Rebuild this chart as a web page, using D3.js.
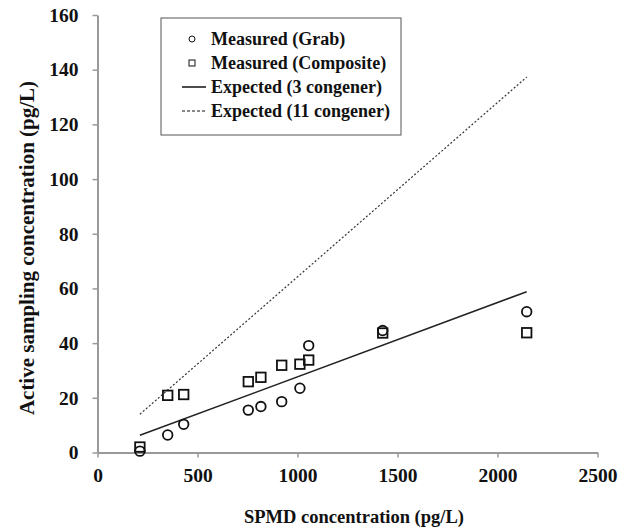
<!DOCTYPE html>
<html>
<head>
<meta charset="utf-8">
<script src="https://cdn.jsdelivr.net/npm/d3@7"></script>
<style>
  body { margin: 0; background: #fff; }
  text { font-family: "Liberation Serif", "Times New Roman", serif; font-weight: bold; fill: #111; }
</style>
</head>
<body>
<svg id="chart" width="632" height="529"></svg>
<script>
// SPMD concentration (pg/L) for each sampling event
const spmd = [212, 351, 431, 754, 817, 921, 1012, 1056, 1426, 2146];
// active sampling results (pg/L)
const grab = [0.5, 6.4, 10.3, 15.5, 16.8, 18.6, 23.5, 39.1, 44.6, 51.5];
const composite = [2.0, 20.9, 21.2, 25.9, 27.5, 31.9, 32.3, 33.8, 43.7, 43.8];
// expected lines (endpoints)
const expected3 = [[212, 6.3], [2146, 58.8]];
const expected11 = [[212, 14.0], [2146, 137.3]];

const xTicks = [0, 500, 1000, 1500, 2000, 2500];
const yTicks = [0, 20, 40, 60, 80, 100, 120, 140, 160];
const legendLabels = ["Measured (Grab)", "Measured (Composite)", "Expected (3 congener)", "Expected (11 congener)"];

const svg = d3.select("#chart");
const margin = { top: 15, right: 34.5, bottom: 76.5, left: 97.5 };
const width = 632 - margin.left - margin.right;
const height = 529 - margin.top - margin.bottom;

const g = svg.append("g")
  .attr("transform", "translate(" + margin.left + "," + margin.top + ")");

const x = d3.scaleLinear().domain([0, 2500]).range([0, width]);
const y = d3.scaleLinear().domain([0, 160]).range([height, 0]);

// ---- axes ----
const xAxis = g.append("g")
  .attr("transform", "translate(0," + height + ")")
  .call(d3.axisBottom(x).tickValues(xTicks).tickFormat(d3.format("d"))
    .tickSize(5).tickPadding(11).tickSizeOuter(0));
const yAxis = g.append("g")
  .call(d3.axisLeft(y).tickValues(yTicks).tickFormat(d3.format("d"))
    .tickSize(5).tickPadding(14).tickSizeOuter(0));

[xAxis, yAxis].forEach(ax => {
  ax.select(".domain").attr("stroke", "#999").attr("stroke-width", 2);
  ax.selectAll(".tick line").attr("stroke", "#999").attr("stroke-width", 1.5);
  ax.selectAll(".tick text")
    .style("font-family", "'Liberation Serif', serif")
    .style("font-weight", "bold")
    .style("font-size", "19.5px")
    .attr("fill", "#111");
});

// axis titles
svg.append("text")
  .attr("x", 354)
  .attr("y", 523)
  .attr("text-anchor", "middle")
  .style("font-size", "18.5px")
  .text("SPMD concentration (pg/L)");

svg.append("text")
  .attr("transform", "translate(34," + 248 + ") rotate(-90)")
  .attr("text-anchor", "middle")
  .style("font-size", "21px")
  .text("Active sampling concentration (pg/L)");

// ---- expected lines ----
const line = d3.line().x(d => x(d[0])).y(d => y(d[1]));

g.append("path")
  .attr("d", line(expected11))
  .attr("fill", "none")
  .attr("stroke", "#333")
  .attr("stroke-width", 1.2)
  .attr("stroke-dasharray", "2,2");

g.append("path")
  .attr("d", line(expected3))
  .attr("fill", "none")
  .attr("stroke", "#222")
  .attr("stroke-width", 1.5);

// ---- measured points ----
const side = 9.5;
g.selectAll(".composite")
  .data(spmd.map((s, i) => ({ x: s, y: composite[i] })))
  .enter()
  .append("rect")
  .attr("class", "composite")
  .attr("x", d => x(d.x) - side / 2)
  .attr("y", d => y(d.y) - side / 2)
  .attr("width", side)
  .attr("height", side)
  .attr("fill", "none")
  .attr("stroke", "#111")
  .attr("stroke-width", 1.8);

g.selectAll(".grab")
  .data(spmd.map((s, i) => ({ x: s, y: grab[i] })))
  .enter()
  .append("circle")
  .attr("class", "grab")
  .attr("cx", d => x(d.x))
  .attr("cy", d => y(d.y))
  .attr("r", 4.8)
  .attr("fill", "none")
  .attr("stroke", "#111")
  .attr("stroke-width", 1.8);

// ---- legend ----
const legend = svg.append("g").attr("transform", "translate(161,18)");
legend.append("rect")
  .attr("width", 240)
  .attr("height", 117)
  .attr("fill", "#fff")
  .attr("stroke", "#555")
  .attr("stroke-width", 1);

legendLabels.forEach((label, i) => {
  const row = legend.append("g").attr("transform", "translate(0," + (21 + i * 24) + ")");
  if (i === 0) {
    row.append("circle").attr("cx", 31).attr("cy", 0).attr("r", 3)
      .attr("fill", "none").attr("stroke", "#111").attr("stroke-width", 1);
  } else if (i === 1) {
    row.append("rect").attr("x", 28).attr("y", -3).attr("width", 6).attr("height", 6)
      .attr("fill", "none").attr("stroke", "#111").attr("stroke-width", 1);
  } else {
    row.append("line").attr("x1", 21).attr("x2", 45).attr("y1", 0).attr("y2", 0)
      .attr("stroke", "#111").attr("stroke-width", i === 2 ? 1.5 : 1)
      .attr("stroke-dasharray", i === 3 ? "3,2" : null);
  }
  row.append("text")
    .attr("x", 50)
    .attr("y", 6)
    .style("font-size", "18px")
    .text(label);
});
</script>
</body>
</html>
